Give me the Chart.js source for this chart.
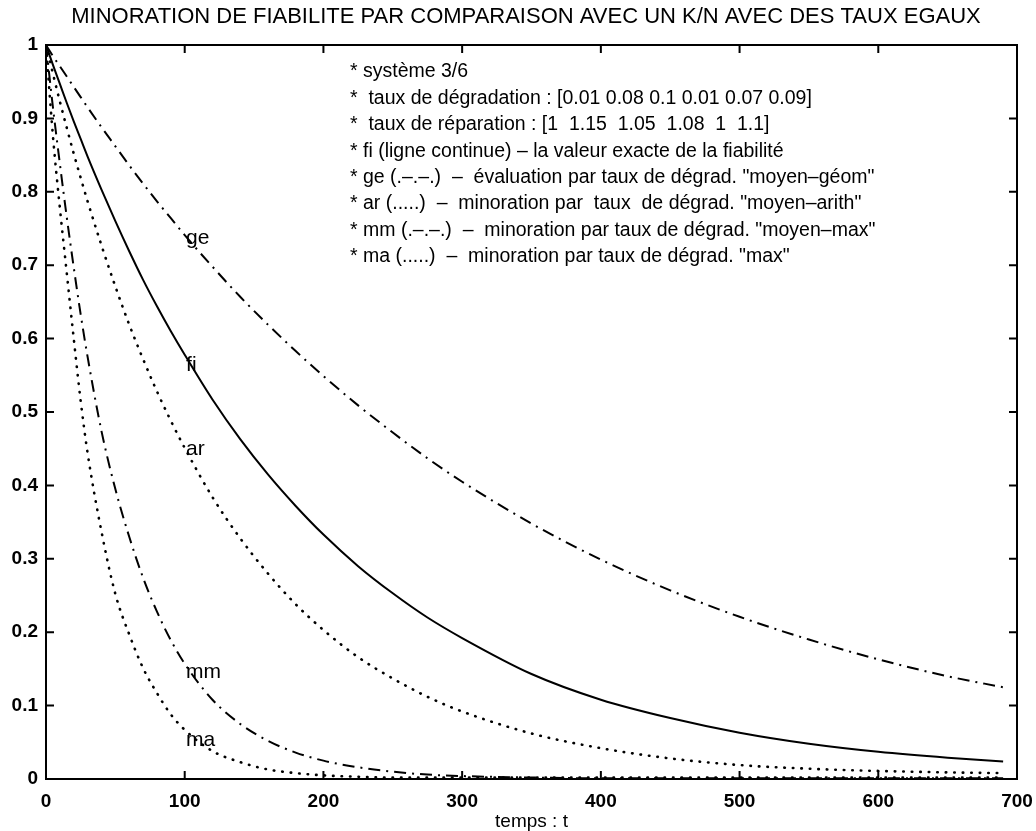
<!DOCTYPE html>
<html><head><meta charset="utf-8">
<script src="https://cdn.jsdelivr.net/npm/chart.js@4/dist/chart.umd.min.js"></script>
<style>html,body{margin:0;padding:0;background:#fff}#wrap{width:1036px;height:831px}</style>
</head><body><div id="wrap"><canvas id="c" width="1036" height="831"></canvas></div>
<script>
// ---- data ----
const tGrid = [0,5,10,15,20,25,30,40,50,60,70,80,90,100,120,140,160,180,200,225,250,275,300,350,400,450,500,550,600,650,690];
const fiValues = [1,0.973,0.947,0.921,0.896,0.872,0.848,0.803,0.760,0.719,0.680,0.644,0.610,0.578,0.517,0.463,0.415,0.372,0.333,0.290,0.253,0.220,0.192,0.143,0.108,0.083,0.063,0.048,0.037,0.029,0.024];
const geValues = [1,0.985,0.971,0.957,0.943,0.929,0.915,0.888,0.862,0.836,0.811,0.787,0.764,0.741,0.698,0.657,0.619,0.583,0.549,0.509,0.472,0.437,0.405,0.348,0.299,0.257,0.221,0.190,0.163,0.140,0.125];
const arValues = [1,0.961,0.923,0.887,0.852,0.819,0.787,0.727,0.671,0.619,0.572,0.528,0.488,0.451,0.384,0.328,0.280,0.238,0.203,0.166,0.137,0.112,0.092,0.062,0.042,0.028,0.019,0.014,0.011,0.009,0.008];
const mmValues = [1,0.915,0.838,0.765,0.697,0.633,0.575,0.474,0.395,0.330,0.274,0.228,0.189,0.157,0.108,0.075,0.052,0.036,0.025,0.016,0.010,0.006,0.004,0.002,0.001,0.001,0.001,0.001,0.001,0.001,0.001];
const maValues = [1,0.876,0.778,0.689,0.600,0.515,0.444,0.337,0.252,0.197,0.151,0.117,0.088,0.067,0.038,0.023,0.013,0.008,0.005,0.003,0.002,0.002,0.002,0.002,0.002,0.002,0.002,0.002,0.002,0.002,0.002];
const xTicks = [0,100,200,300,400,500,600,700];
const yTicks = [0,0.1,0.2,0.3,0.4,0.5,0.6,0.7,0.8,0.9,1];
const curveNames = ['ge','fi','ar','mm','ma'];
const curveLabelT = [101,101,101,101,101];
const curveLabelV = [0.737,0.564,0.449,0.146,0.053];
const titleText = 'MINORATION DE FIABILITE PAR COMPARAISON AVEC UN K/N AVEC DES TAUX EGAUX';
const xTitleText = 'temps : t';
const noteLines = [
  '* système 3/6',
  '*  taux de dégradation : [0.01 0.08 0.1 0.01 0.07 0.09]',
  '*  taux de réparation : [1  1.15  1.05  1.08  1  1.1]',
  '* fi (ligne continue) \u2013 la valeur exacte de la fiabilité',
  '* ge (.\u2013.\u2013.)  \u2013  évaluation par taux de dégrad. "moyen\u2013géom"',
  '* ar (.....)  \u2013  minoration par  taux  de dégrad. "moyen\u2013arith"',
  '* mm (.\u2013.\u2013.)  \u2013  minoration par taux de dégrad. "moyen\u2013max"',
  '* ma (.....)  \u2013  minoration par taux de dégrad. "max"'
];

const FONT = '"Liberation Sans", Arial, Helvetica, sans-serif';
const pts = vals => tGrid.map((t, i) => ({x: t, y: vals[i]}));
const DASHDOT = [12, 6, 2, 6];
const DOT = [0.5, 8];

const boxPlugin = {
  id: 'box',
  afterDatasetsDraw(chart) {
    const ctx = chart.ctx;
    const {left, right, top, bottom} = chart.chartArea;
    const xs = chart.scales.x, ys = chart.scales.y;
    ctx.save();
    ctx.strokeStyle = '#000';
    ctx.lineWidth = 2;
    ctx.strokeRect(left, top, right - left, bottom - top);
    ctx.beginPath();
    xTicks.forEach(v => {
      const p = xs.getPixelForValue(v);
      ctx.moveTo(p, bottom); ctx.lineTo(p, bottom - 8);
      ctx.moveTo(p, top); ctx.lineTo(p, top + 8);
    });
    yTicks.forEach(v => {
      const p = ys.getPixelForValue(v);
      ctx.moveTo(left, p); ctx.lineTo(left + 8, p);
      ctx.moveTo(right, p); ctx.lineTo(right - 8, p);
    });
    ctx.stroke();
    ctx.fillStyle = '#000';
    // title
    ctx.font = '22px ' + FONT;
    ctx.textAlign = 'center';
    ctx.textBaseline = 'middle';
    ctx.fillText(titleText, 526, 17);
    // curve labels
    ctx.font = '21px ' + FONT;
    ctx.textAlign = 'left';
    curveNames.forEach((n, i) => {
      ctx.fillText(n, xs.getPixelForValue(curveLabelT[i]), ys.getPixelForValue(curveLabelV[i]));
    });
    // notes
    ctx.font = '19.5px ' + FONT;
    noteLines.forEach((s, i) => {
      ctx.fillText(s, left + 304, top + 27 + i * 26.4);
    });
    ctx.restore();
  }
};

new Chart(document.getElementById('c'), {
  type: 'line',
  data: {
    datasets: [
      {label: 'fi', data: pts(fiValues), borderColor: '#000', borderWidth: 2},
      {label: 'ge', data: pts(geValues), borderColor: '#000', borderWidth: 2, borderDash: DASHDOT},
      {label: 'ar', data: pts(arValues), borderColor: '#000', borderWidth: 2.6, borderDash: DOT, borderCapStyle: 'round'},
      {label: 'mm', data: pts(mmValues), borderColor: '#000', borderWidth: 2, borderDash: DASHDOT},
      {label: 'ma', data: pts(maValues), borderColor: '#000', borderWidth: 2.6, borderDash: DOT, borderCapStyle: 'round'}
    ]
  },
  options: {
    responsive: false,
    animation: false,
    devicePixelRatio: 1,
    parsing: false,
    elements: {point: {radius: 0}, line: {cubicInterpolationMode: 'monotone', fill: false}},
    layout: {padding: {left: 0, right: 19, top: 45, bottom: 0}},
    plugins: {
      legend: {display: false},
      tooltip: {enabled: false},
      title: {display: false}
    },
    scales: {
      x: {
        type: 'linear', min: 0, max: 700,
        afterBuildTicks: s => { s.ticks = xTicks.map(v => ({value: v})); },
        afterFit: s => { s.height = 52; s.paddingLeft = 0; s.paddingRight = 0; },
        grid: {display: false, drawTicks: false},
        border: {display: false},
        ticks: {color: '#000', padding: 11, maxRotation: 0, font: {family: FONT, size: 19, weight: 'bold'}},
        title: {display: true, text: xTitleText, color: '#000', font: {family: FONT, size: 19, lineHeight: 1}, padding: 0}
      },
      y: {
        type: 'linear', min: 0, max: 1,
        afterBuildTicks: s => { s.ticks = yTicks.map(v => ({value: v})); },
        afterFit: s => { s.width = 46; s.paddingTop = 0; s.paddingBottom = 0; },
        grid: {display: false, drawTicks: false},
        border: {display: false},
        ticks: {color: '#000', padding: 8, font: {family: FONT, size: 19, weight: 'bold'},
          callback: v => String(Math.round(v * 10) / 10)}
      }
    }
  },
  plugins: [boxPlugin]
});
</script>
</body></html>
